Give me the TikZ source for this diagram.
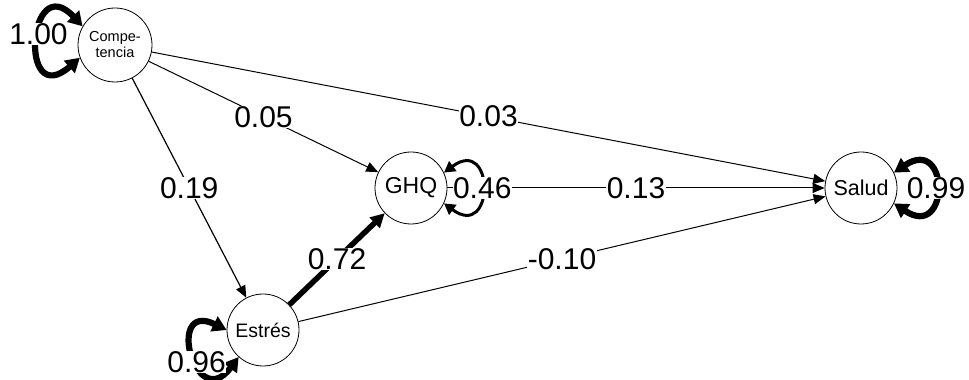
\documentclass[tikz,border=0pt]{standalone}
\usepackage{fontspec}
\setmainfont{Liberation Sans}
\usetikzlibrary{arrows.meta}
\begin{document}
\begin{tikzpicture}[x=1pt,y=1pt,
  var/.style={circle, draw=black, line width=0.8pt, minimum size=72pt, inner sep=0pt, fill=white},
  pathedge/.style={line width=1pt, -{Triangle[length=12pt,width=10pt]}},
  lab/.style={fill=white, inner sep=0.5pt, font=\fontsize{30}{32}\selectfont},
  varloop/.style={line width=6.2pt, {Triangle[length=14pt,width=16pt]}-{Triangle[length=14pt,width=16pt]}},
  thinloop/.style={line width=3pt, {Triangle[length=11pt,width=12pt]}-{Triangle[length=11pt,width=12pt]}}
]
\path[use as bounding box, fill=white] (0,0) rectangle (969,380);

\node[var, minimum size=74pt, font=\fontsize{14.5}{16}\selectfont, align=center] (comp) at (115,335) {Compe-\\tencia};
\node[var, font=\fontsize{23}{25}\selectfont] (ghq) at (411,192) {GHQ};
\node[var, font=\fontsize{19.5}{22}\selectfont] (est) at (263,50) {Estrés};
\node[var, font=\fontsize{21.5}{24}\selectfont] (sal) at (861,192) {Salud};

\draw[pathedge] (comp) -- node[lab]{0.05} (ghq);
\draw[pathedge] (comp) -- node[lab]{0.03} (sal);
\draw[pathedge, line width=1.2pt] (comp) -- node[lab]{0.19} (est);
\draw[pathedge] (ghq) -- node[lab]{0.13} (sal);
\draw[line width=5.5pt, -{Triangle[length=14pt,width=14pt]}] (est) -- node[lab]{0.72} (ghq);
\draw[pathedge] (est) -- node[lab]{-0.10} (sal);

\draw[varloop] (comp.150) .. controls (28,412) and (18,268) .. node[lab, pos=0.45]{1.00} (comp.200);
\draw[thinloop] (ghq.25) .. controls (495,245) and (495,139) .. node[lab]{0.46} (ghq.-25);
\draw[varloop] (sal.25) .. controls (950,245) and (950,139) .. node[lab]{0.99} (sal.-25);
\draw[varloop] (est.180) .. controls (165,80) and (195,-35) .. node[lab, pos=0.58]{0.96} (est.228);
\end{tikzpicture}
\end{document}
